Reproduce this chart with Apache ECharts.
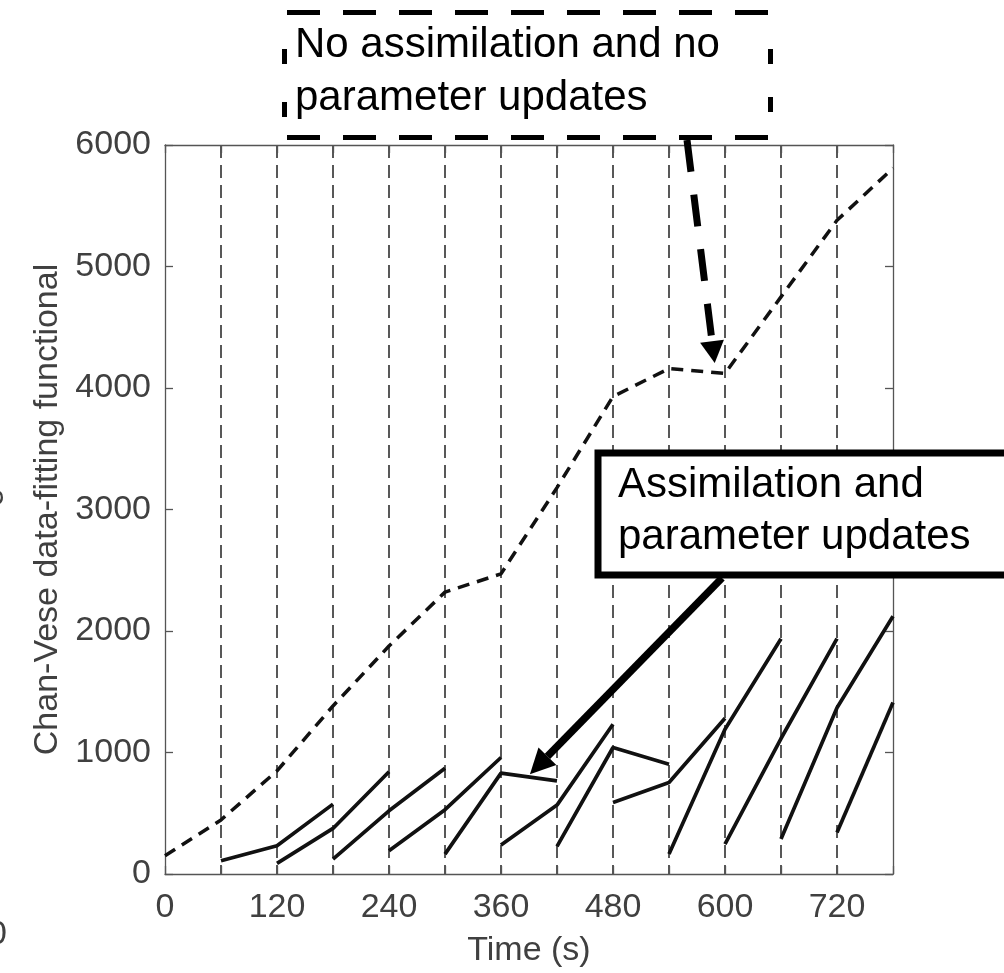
<!DOCTYPE html>
<html>
<head>
<meta charset="utf-8">
<script src="https://cdn.jsdelivr.net/npm/echarts@6/dist/echarts.min.js"></script>
<style>
  html, body { margin: 0; padding: 0; background: #fff; }
  #chart { width: 1004px; height: 973px; }
</style>
</head>
<body>
<div id="chart"></div>
<script>
// Time (s) tick labels shown on the x axis
const xLabels = [0, 120, 240, 360, 480, 600, 720];

// No assimilation, no parameter updates (dashed curve)
const noAssimTime = [0, 60, 120, 180, 240, 300, 360, 420, 480, 540, 600, 660, 720, 780];
const noAssimValue = [150, 445, 849, 1383, 1876, 2320, 2470, 3180, 3930, 4160, 4120, 4750, 5380, 5810];

// Assimilation runs: each one starts at a window and is sampled every 60 s
const runStart = [60, 120, 180, 240, 300, 360, 420, 480, 540, 600, 660, 720];
const runValues = [
    [109, 233, 575],
    [88, 375, 841],
    [123, 520, 871],
    [192, 529, 959],
    [164, 830, 767],
    [238, 567, 1233],
    [227, 1041, 904],
    [589, 753, 1282],
    [164, 1191, 1937],
    [246, 1115, 1937],
    [288, 1369, 2122],
    [342, 1411]
];

// where the two arrows point, in data units
const dashedArrowTip = [589, 4205];
const solidArrowTip = [391, 822];

const FONT = '"Liberation Sans", Arial, Helvetica, sans-serif';
const GREY = '#404040';

let chart = echarts.init(document.getElementById('chart'));

let series = [];

series.push({
    name: 'No assimilation',
    type: 'line',
    data: noAssimTime.map((t, i) => [t, noAssimValue[i]]),
    showSymbol: false,
    silent: true,
    lineStyle: { color: '#111', width: 3.5, type: [12, 8] },
    z: 3
});

runValues.forEach((vals, k) => {
    series.push({
        name: 'Run ' + k,
        type: 'line',
        data: vals.map((v, i) => [runStart[k] + i * 60, v]),
        showSymbol: false,
        silent: true,
        lineStyle: { color: '#111', width: 3.7, type: 'solid' },
        z: 3
    });
});

// box around the plot, MATLAB style: all four sides, ticks pointing in
const frameLine = () => ({ show: true, onZero: false, lineStyle: { color: '#555', width: 1.3 } });
const frameTick = () => ({ show: true, inside: true, length: 8, lineStyle: { color: '#555', width: 1.3 } });

chart.setOption({
    animation: false,
    backgroundColor: '#fff',
    grid: { left: 165, right: 111, top: 145, bottom: 98, containLabel: false },
    xAxis: [{
        type: 'value',
        position: 'bottom',
        min: 0,
        max: 780,
        interval: 60,
        name: 'Time (s)',
        nameLocation: 'middle',
        nameGap: 60,
        nameTextStyle: { fontFamily: FONT, fontSize: 34, color: GREY },
        axisLine: frameLine(),
        axisTick: frameTick(),
        axisLabel: {
            fontFamily: FONT, fontSize: 34, color: GREY, margin: 17,
            formatter: v => xLabels.includes(v) ? String(v) : ''
        },
        splitLine: {
            show: true, showMinLine: false, showMaxLine: false,
            lineStyle: { color: '#222', width: 1.5, type: [13, 7] }
        }
    }, {
        type: 'value',
        position: 'top',
        min: 0,
        max: 780,
        interval: 60,
        axisLine: frameLine(),
        axisTick: frameTick(),
        axisLabel: { show: false },
        splitLine: { show: false }
    }],
    yAxis: [{
        type: 'value',
        position: 'left',
        min: 0,
        max: 6000,
        interval: 1000,
        name: 'Chan-Vese data-fitting functional',
        nameLocation: 'middle',
        nameGap: 92,
        nameTextStyle: { fontFamily: FONT, fontSize: 34, color: GREY },
        axisLine: frameLine(),
        axisTick: frameTick(),
        axisLabel: { fontFamily: FONT, fontSize: 34, color: GREY, margin: 14, formatter: v => String(v) },
        splitLine: { show: false }
    }, {
        type: 'value',
        position: 'right',
        min: 0,
        max: 6000,
        interval: 1000,
        axisLine: frameLine(),
        axisTick: frameTick(),
        axisLabel: { show: false },
        splitLine: { show: false }
    }],
    series: series
});

// arrow = shaft + triangular head, tip given in pixels
const arrow = function (x1, y1, x2, y2, width, headLen, headWidth, dash) {
    let dx = x2 - x1, dy = y2 - y1;
    let len = Math.sqrt(dx * dx + dy * dy);
    let ux = dx / len, uy = dy / len;
    let bx = x2 - ux * headLen, by = y2 - uy * headLen;
    let nx = -uy * headWidth / 2, ny = ux * headWidth / 2;
    return [{
        type: 'line',
        z: 110,
        shape: { x1: x1, y1: y1, x2: bx, y2: by },
        style: { stroke: '#000', lineWidth: width, lineDash: dash || null }
    }, {
        type: 'polygon',
        z: 111,
        shape: { points: [[x2, y2], [bx + nx, by + ny], [bx - nx, by - ny]] },
        style: { fill: '#000' }
    }];
};

let dTip = chart.convertToPixel({ gridIndex: 0 }, dashedArrowTip);
let sTip = chart.convertToPixel({ gridIndex: 0 }, solidArrowTip);

let graphics = [];

// top annotation: dashed box
graphics.push({ type: 'rect', z: 100, shape: { x: 284, y: 12, width: 487, height: 126 }, style: { fill: '#fff', stroke: null } });
graphics.push({ type: 'line', z: 101, shape: { x1: 287, y1: 12.5, x2: 768, y2: 12.5 }, style: { stroke: '#000', lineWidth: 5, lineDash: [33, 23] } });
graphics.push({ type: 'line', z: 101, shape: { x1: 287, y1: 137.5, x2: 768, y2: 137.5 }, style: { stroke: '#000', lineWidth: 5, lineDash: [33, 23] } });
graphics.push({ type: 'line', z: 101, shape: { x1: 284.5, y1: 49, x2: 284.5, y2: 119 }, style: { stroke: '#000', lineWidth: 5, lineDash: [15, 38] } });
graphics.push({ type: 'line', z: 101, shape: { x1: 770.5, y1: 49, x2: 770.5, y2: 119 }, style: { stroke: '#000', lineWidth: 5, lineDash: [15, 33] } });
graphics.push({
    type: 'text', z: 102,
    style: { text: 'No assimilation and no\nparameter updates', x: 295, y: 19, font: '42px ' + FONT, fill: '#000', lineHeight: 53, verticalAlign: 'top' }
});

// lower annotation: solid box running off the right edge
graphics.push({ type: 'rect', z: 100, shape: { x: 598, y: 453, width: 500, height: 122 }, style: { fill: '#fff', stroke: '#000', lineWidth: 7 } });
graphics.push({
    type: 'text', z: 102,
    style: { text: 'Assimilation and\nparameter updates', x: 618, y: 459, font: '42px ' + FONT, fill: '#000', lineHeight: 52, verticalAlign: 'top' }
});

graphics = graphics.concat(arrow(687, 140, dTip[0], dTip[1], 7, 22, 24, [32, 23]));
graphics = graphics.concat(arrow(722, 578, sTip[0], sTip[1], 7.5, 25, 25));

// fragments of the neighbouring panel cut by the left edge
graphics.push({ type: 'text', z: 50, style: { text: '0', x: 7, y: 935, font: '34px ' + FONT, fill: GREY, align: 'right', verticalAlign: 'middle' } });
graphics.push({ type: 'text', z: 50, rotation: Math.PI / 2, x: -13, y: 497, style: { text: 'g', x: 0, y: 0, font: '34px ' + FONT, fill: GREY, align: 'center', verticalAlign: 'middle' } });

chart.setOption({ graphic: graphics });
</script>
</body>
</html>
